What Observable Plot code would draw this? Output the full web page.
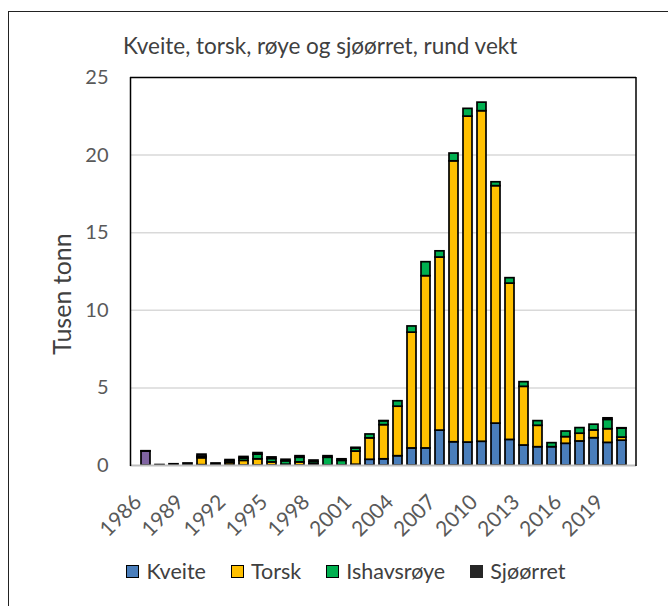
<!DOCTYPE html>
<html>
<head>
<meta charset="utf-8">
<script src="https://cdn.jsdelivr.net/npm/d3@7"></script>
<script src="https://cdn.jsdelivr.net/npm/@observablehq/plot@0.6"></script>
<style>
  html, body { margin: 0; padding: 0; background: #fff; }
  #wrap { position: relative; width: 668px; height: 606px; overflow: hidden; font-family: Lato, "Open Sans", sans-serif; }
  #border { position: absolute; left: 8px; top: 11px; width: 700px; height: 700px; border: 1.5px solid #222; box-sizing: border-box; }
  #title { position: absolute; left: 123px; top: 32px; font-size: 22.5px; color: #404040; white-space: nowrap; }
  #ylab { position: absolute; left: 61px; top: 294px; font-size: 25px; color: #404040; white-space: nowrap; transform: translate(-50%, -50%) rotate(-90deg); }
  #chart { position: absolute; left: 0; top: 0; }
  #legend { position: absolute; left: 12px; top: 558px; width: 668px; display: flex; justify-content: center; gap: 25px; font-size: 21.5px; color: #404040; }
  .item { display: flex; align-items: center; gap: 7px; }
  .sw { width: 13px; height: 13px; border: 1.5px solid #000; box-sizing: border-box; }
</style>
</head>
<body>
<div id="wrap">
  <div id="border"></div>
  <div id="chart"></div>
  <div id="title">Kveite, torsk, røye og sjøørret, rund vekt</div>
  <div id="ylab">Tusen tonn</div>
  <div id="legend"></div>
</div>
<script>
const years = [1986,1987,1988,1989,1990,1991,1992,1993,1994,1995,1996,1997,1998,1999,2000,
  2001,2002,2003,2004,2005,2006,2007,2008,2009,2010,2011,2012,2013,2014,2015,2016,2017,2018,2019,2020];
const kveite = [0,0,0,0,0.02,0,0,0,0,0,0,0,0,0,0,
  0.05,0.37,0.4,0.6,1.1,1.1,2.25,1.5,1.48,1.53,2.7,1.65,1.29,1.18,1.18,1.4,1.55,1.76,1.46,1.6];
const torsk = [0,0,0,0,0.45,0,0.15,0.3,0.4,0.2,0.05,0.2,0.08,0,0,
  0.85,1.38,2.2,3.19,7.46,11.1,11.15,18.1,21.0,21.3,15.3,10.07,3.78,1.38,0,0.43,0.5,0.5,0.88,0.2];
const ishavsroye = [0,0,0,0,0.1,0.03,0.12,0.15,0.3,0.22,0.22,0.3,0.14,0.5,0.3,
  0.2,0.25,0.25,0.35,0.4,0.9,0.4,0.5,0.5,0.55,0.25,0.35,0.3,0.3,0.26,0.36,0.36,0.37,0.6,0.58];
const sjoorret = [0.02,0.03,0.08,0.13,0.13,0.1,0.08,0.1,0.1,0.1,0.1,0.1,0.1,0.1,0.1,
  0.04,0,0.01,0,0,0,0,0,0,0,0,0,0,0,0,0,0,0,0.1,0.02];
const annet = [0.9,0,0,0,0,0,0,0,0,0,0,0,0,0,0,
  0,0,0,0,0,0,0,0,0,0,0,0,0,0,0,0,0,0,0,0];

const seriesNames = ["Annet", "Kveite", "Torsk", "Ishavsrøye", "Sjøørret"];
const seriesValues = [annet, kveite, torsk, ishavsroye, sjoorret];
const seriesColors = ["#8064a2", "#4a7ebb", "#ffc000", "#00b050", "#262626"];
const legendNames = ["Kveite", "Torsk", "Ishavsrøye", "Sjøørret"];
const yTicks = [0, 5, 10, 15, 20, 25];
const xTicks = [1986,1989,1992,1995,1998,2001,2004,2007,2010,2013,2016,2019];

const rows = [];
years.forEach((yr, i) => {
  seriesNames.forEach((s, j) => {
    const v = seriesValues[j][i];
    if (v > 0) rows.push({year: yr, series: s, value: v});
  });
});

const chart = Plot.plot({
  width: 668,
  height: 545,
  marginLeft: 130,
  marginRight: 32,
  marginTop: 77,
  marginBottom: 80,
  style: {fontFamily: "Lato, 'Open Sans', sans-serif", background: "transparent", overflow: "visible"},
  x: {type: "band", domain: years, padding: 0.36, label: null},
  y: {domain: [0, 25], label: null},
  color: {domain: seriesNames, range: seriesColors},
  marks: [
    Plot.gridY(yTicks.filter(d => d > 0 && d < 25), {stroke: "#d9d9d9", strokeOpacity: 1, strokeWidth: 1.5}),
    Plot.barY(rows, Plot.stackY({x: "year", y: "value", fill: "series", order: seriesNames, stroke: "#000", strokeWidth: 1.7})),
    Plot.ruleY([25], {stroke: "#000", strokeWidth: 1.5}),
    Plot.ruleY([0], {stroke: "#bfbfbf", strokeWidth: 2}),
    Plot.axisY(yTicks, {tickSize: 0, tickPadding: 22, fontSize: 20, fill: "#595959", label: null}),
    Plot.axisX(xTicks, {tickSize: 0, tickPadding: 18, tickRotate: -45, fontSize: 21, fill: "#595959", label: null, dy: 15, dx: -8, tickFormat: d => String(d)})
  ]
});

document.getElementById("chart").appendChild(chart);

const svg = d3.select(chart);
const y0 = chart.scale("y").apply(0), y25 = chart.scale("y").apply(25);
svg.append("line").attr("x1", 130.5).attr("x2", 130.5).attr("y1", y25).attr("y2", y0 + 1).attr("stroke", "#000").attr("stroke-width", 1.5);
svg.append("line").attr("x1", 668 - 32).attr("x2", 668 - 32).attr("y1", y25).attr("y2", y0 + 1).attr("stroke", "#000").attr("stroke-width", 1.5);

const legend = document.getElementById("legend");
legendNames.forEach(n => {
  const c = seriesColors[seriesNames.indexOf(n)];
  const it = document.createElement("div");
  it.className = "item";
  const sw = document.createElement("div");
  sw.className = "sw";
  sw.style.background = c;
  if (n === "Sjøørret") sw.style.borderColor = c;
  const t = document.createElement("span");
  t.textContent = n;
  it.appendChild(sw); it.appendChild(t);
  legend.appendChild(it);
});
</script>
</body>
</html>
